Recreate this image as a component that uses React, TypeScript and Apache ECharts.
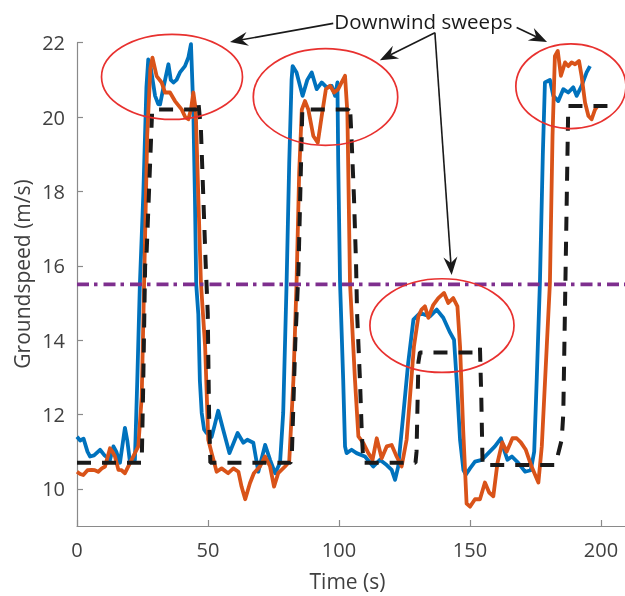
import React, { useEffect, useRef } from "react";
import * as echarts from "echarts";

const xTicks = [0, 50, 100, 150, 200];
const yTicks = [10, 12, 14, 16, 18, 20, 22];
const thresholdValue = 15.5;
const xRange = [0, 210];
const yRange = [9, 22];

const blueData: [number, number][] = [
  [0, 11.4], [1.2, 11.3], [2.5, 11.35], [4, 11.0], [5, 10.87], [6.5, 10.9], [8.8, 11.05], [10.5, 10.9],
  [12.6, 10.78], [13.9, 11.14], [15.0, 11.0], [16.4, 10.7], [18.3, 11.64], [19.2, 11.3], [20.2, 10.73],
  [22.1, 10.78], [23.0, 12.9], [24.0, 15.5], [25.3, 17.9], [26.5, 20.8], [27.2, 21.55], [28.2, 21.3],
  [29.8, 20.57], [31.0, 20.35], [31.7, 20.34], [33.0, 20.8], [34.9, 21.42], [35.8, 21.0], [36.8, 20.93],
  [38.0, 21.0], [39.3, 21.2], [41.2, 21.37], [42.5, 21.6], [43.5, 21.96], [44.4, 20.2], [45.0, 17.9],
  [45.5, 15.5], [46.3, 14.7], [46.9, 12.9], [47.6, 12.04], [48.5, 11.6], [49.5, 11.5], [51.4, 11.4],
  [52.5, 11.7], [53.9, 12.1], [55.8, 11.59], [58.2, 10.96], [61.3, 11.5], [63.5, 11.24], [65.0, 11.32],
  [67.3, 11.24], [69.2, 10.46], [71.8, 11.18], [73.7, 10.78], [75.6, 10.42], [77.5, 10.7], [78.7, 12.04],
  [80.0, 15.54], [81.0, 18.77], [81.9, 21.0], [82.3, 21.37], [83.8, 21.2], [86.1, 20.57], [87.9, 21.0],
  [89.6, 21.2], [91.5, 20.75], [93.4, 20.93], [95.3, 20.8], [97.2, 20.84], [98.5, 20.57], [99.4, 20.93],
  [99.7, 18.8], [100.4, 15.54], [101.6, 12.93], [102.3, 11.14], [102.9, 10.96], [104.8, 11.05],
  [106.7, 10.96], [109.9, 10.87], [113.1, 10.6], [115.6, 10.78], [118.2, 10.64], [120.1, 10.51],
  [121.4, 10.24], [122.6, 10.6], [124.6, 12.04], [126.4, 13.38], [128.4, 14.55], [130.9, 14.73],
  [133.0, 14.68], [134.7, 14.64], [137.3, 14.82], [139.8, 14.6], [142.4, 14.2], [143.9, 14.01],
  [144.9, 12.93], [146.2, 11.32], [147.5, 10.5], [148.4, 10.38], [150.0, 10.55], [151.9, 10.73],
  [154.5, 10.78], [157.0, 10.96], [159.5, 11.14], [161.8, 11.36], [163.0, 11.05], [164.3, 10.78],
  [166.0, 10.87], [168.4, 10.7], [171.0, 10.46], [173.2, 10.5], [174.5, 11.0], [175.5, 13.0],
  [176.7, 15.58], [177.8, 19.0], [178.6, 20.93], [180.5, 21.0], [181.8, 20.57], [183.7, 20.43],
  [185.6, 20.75], [187.5, 20.66], [189.4, 20.8], [190.7, 20.57], [192.6, 20.84], [194.5, 21.2],
  [195.8, 21.37],
];

const orangeData: [number, number][] = [
  [0, 10.46], [1.2, 10.4], [2.4, 10.37], [4, 10.5], [5.6, 10.51], [6.8, 10.5], [8.1, 10.46], [9.5, 10.55],
  [10.7, 10.6], [12.6, 11.09], [13.5, 11.0], [14.5, 10.87], [15.8, 10.51], [17, 10.5], [18.3, 10.42],
  [20.2, 10.69], [22.1, 10.96], [23.4, 11.14], [24.7, 12.48], [25.6, 15.5], [26.8, 19.5], [28.0, 21.3],
  [28.8, 21.6], [30.4, 21.1], [32.3, 20.93], [33.6, 20.66], [35.5, 20.66], [37.4, 20.43], [40, 20.2],
  [41.3, 20.0], [42.5, 19.94], [43.5, 20.2], [44.4, 20.66], [45.3, 20.2], [46.3, 17.87], [47.3, 15.54],
  [48.9, 13.83], [50.1, 11.32], [51.4, 10.96], [53.3, 10.46], [55.2, 10.55], [57.7, 10.42], [59.7, 10.55],
  [61.6, 10.46], [62.8, 10.06], [64.2, 9.72], [66, 10.15], [67.5, 10.42], [69.8, 10.6], [71.8, 10.87],
  [73.7, 10.6], [75.2, 10.06], [76.8, 10.42], [79.4, 10.6], [81, 10.73], [82.6, 12.93], [83.8, 15.54],
  [84.8, 18.5], [85.8, 20.2], [87, 20.43], [88.3, 20.2], [90.2, 19.49], [91.9, 19.31], [93.4, 20.03],
  [95, 20.75], [96.6, 20.84], [98.1, 20.66], [99.7, 20.75], [101, 20.93], [102.3, 21.11], [103.2, 20.12],
  [104.2, 15.54], [106.1, 12.93], [107.4, 11.41], [109.3, 11.23], [111.2, 10.96], [112.8, 10.78],
  [114.4, 11.36], [116.3, 10.82], [118.2, 11.14], [120.1, 11.18], [122, 10.87], [123.9, 10.6],
  [125.8, 11.32], [127.1, 12.48], [128.6, 13.83], [130.3, 14.64], [131.5, 14.82], [132.8, 14.91],
  [134.1, 14.6], [136, 14.95], [137.9, 15.13], [140.1, 15.27], [141.7, 15.0], [143.6, 15.13],
  [145.2, 14.91], [146.2, 13.83], [147.4, 11.59], [148.7, 9.6], [150, 9.52], [151.9, 9.72],
  [153.8, 9.72], [155.7, 10.17], [157.3, 9.9], [158.9, 9.8], [160.5, 10.7], [162.3, 11.25], [164, 11.0],
  [166.2, 11.36], [167.8, 11.36], [169.4, 11.25], [171.3, 11.05], [173.5, 10.6], [176.1, 10.17],
  [177.4, 11.14], [179.3, 13.83], [180.5, 15.54], [181.5, 19.5], [182.4, 21.64], [183.5, 21.78],
  [184.7, 21.11], [186.3, 21.47], [187.5, 21.37], [188.8, 21.47], [190.1, 21.42], [191.6, 21.51],
  [192.6, 21.1], [193.9, 20.39], [195.2, 20.03], [196.4, 19.94], [197.7, 20.2], [198.7, 20.3],
];

const commandData: [number, number][] = [
  [0, 10.7], [24.7, 10.7], [25.2, 12.5], [26.0, 16.0], [26.6, 16.4], [28.7, 20.2], [45.5, 20.2],
  [46.3, 20.43], [47.3, 19.67], [48.2, 17.87], [49.1, 16.08], [49.9, 14.73], [50.4, 12.04], [50.9, 10.7],
  [81.5, 10.7], [82.0, 10.9], [83.3, 13.9], [84.5, 15.8], [86.0, 20.2], [103.5, 20.2], [104.2, 20.3],
  [104.8, 19.4], [105.7, 17.87], [106.5, 16.08], [106.9, 14.73], [108, 12.93], [108.7, 11.5],
  [109.3, 10.7], [129.2, 10.7], [129.6, 11.0], [130.3, 13.4], [130.9, 13.67], [153.5, 13.67],
  [153.8, 13.79], [154.3, 12.5], [154.8, 10.64], [182.4, 10.64], [183.5, 10.9], [185, 11.32],
  [185.6, 12.0], [187.5, 20.3], [205, 20.3],
];

const thresholdData: [number, number][] = [
  [xRange[0], thresholdValue],
  [xRange[1], thresholdValue],
];

// annotation ellipses in data coordinates: centre time, centre speed, radius (s), radius (m/s)
const ellipses = [
  [36.26, 21.08, 26.9, 1.145],
  [94.85, 20.54, 27.56, 1.3],
  [139.3, 14.39, 27.5, 1.26],
  [188.5, 20.83, 21.0, 1.14],
];

// arrows in data coordinates: [fromT, fromV, toT, toV]
const arrows = [
  [97.8, 22.52, 58.4, 22.02],
  [136.6, 22.27, 115.6, 21.53],
  [136.6, 22.27, 143.0, 15.75],
  [167.8, 22.41, 179.4, 22.02],
];
const annotationLabel = "Downwind sweeps";
const annotationPos = [132.2, 22.59];

const FONT = '"Open Sans", "Noto Sans", sans-serif';
const AXIS_COLOR = "#8a8a8a";
const TEXT_COLOR = "#404040";

export default function App() {
  const ref = useRef<HTMLDivElement>(null);

  useEffect(() => {
    if (!ref.current) return;
    const chart = echarts.init(ref.current, undefined, { renderer: "svg" });

    const axisCommon = {
      type: "value" as const,
      axisLine: { show: true, onZero: false, lineStyle: { color: AXIS_COLOR, width: 1.2 } },
      splitLine: { show: false },
    };

    chart.setOption({
      animation: false,
      grid: { left: 77, right: -2.2, top: 42.7, bottom: 70, containLabel: false, outerBoundsMode: "none" },
      xAxis: {
        ...axisCommon,
        min: xRange[0],
        max: xRange[1],
        axisTick: { show: true, inside: true, length: 6, customValues: xTicks, lineStyle: { color: AXIS_COLOR, width: 1.2 } },
        axisLabel: { customValues: xTicks, fontSize: 20, color: TEXT_COLOR, fontFamily: FONT, margin: 13 },
      },
      yAxis: {
        ...axisCommon,
        min: yRange[0],
        max: yRange[1],
        axisTick: { show: true, inside: true, length: 6, customValues: yTicks, lineStyle: { color: AXIS_COLOR, width: 1.2 } },
        axisLabel: { customValues: yTicks, fontSize: 20, color: TEXT_COLOR, fontFamily: FONT, margin: 12 },
      },
      series: [
        {
          name: "Blue",
          type: "line",
          data: blueData,
          showSymbol: false,
          symbol: "none",
          lineStyle: { color: "#0072BD", width: 3.8, join: "round" },
          z: 2,
        },
        {
          name: "Orange",
          type: "line",
          data: orangeData,
          showSymbol: false,
          symbol: "none",
          lineStyle: { color: "#D95319", width: 3.8, join: "round" },
          z: 3,
        },
        {
          name: "Command",
          type: "line",
          data: commandData,
          showSymbol: false,
          symbol: "none",
          lineStyle: { color: "#1a1a1a", width: 4, type: [14, 11] },
          z: 4,
        },
        {
          name: "Threshold",
          type: "line",
          data: thresholdData,
          showSymbol: false,
          symbol: "none",
          lineStyle: { color: "#7E2F8E", width: 3.8, type: [12, 5, 3.5, 6] },
          z: 5,
        },
      ],
    });

    const toPx = (t: number, v: number) => chart.convertToPixel({ gridIndex: 0 }, [t, v]) as number[];

    const graphics: any[] = [];
    ellipses.forEach(([t, v, rt, rv]) => {
      const c = toPx(t, v);
      const e = toPx(t + rt, v + rv);
      graphics.push({
        type: "ellipse",
        silent: true,
        z: 10,
        shape: { cx: c[0], cy: c[1], rx: Math.abs(e[0] - c[0]), ry: Math.abs(e[1] - c[1]) },
        style: { fill: "none", stroke: "#E8312F", lineWidth: 1.7 },
      });
    });

    const L = 18;
    const W = 7;
    const N = 12;
    arrows.forEach(([t0, v0, t1, v1]) => {
      const a = toPx(t0, v0);
      const b = toPx(t1, v1);
      const dx = b[0] - a[0];
      const dy = b[1] - a[1];
      const len = Math.hypot(dx, dy);
      const ux = dx / len;
      const uy = dy / len;
      const nx = -uy;
      const ny = ux;
      graphics.push({
        type: "line",
        silent: true,
        z: 11,
        shape: { x1: a[0], y1: a[1], x2: b[0] - ux * N, y2: b[1] - uy * N },
        style: { stroke: "#1a1a1a", lineWidth: 1.6 },
      });
      graphics.push({
        type: "polygon",
        silent: true,
        z: 11,
        shape: {
          points: [
            [b[0], b[1]],
            [b[0] - ux * L + nx * W, b[1] - uy * L + ny * W],
            [b[0] - ux * N, b[1] - uy * N],
            [b[0] - ux * L - nx * W, b[1] - uy * L - ny * W],
          ],
        },
        style: { fill: "#1a1a1a" },
      });
    });

    const tp = toPx(annotationPos[0], annotationPos[1]);
    graphics.push({
      type: "text",
      silent: true,
      z: 12,
      x: tp[0],
      y: tp[1],
      style: {
        text: annotationLabel,
        font: `20.5px ${FONT}`,
        fill: "#1a1a1a",
        align: "center",
        verticalAlign: "middle",
      },
    });

    graphics.push({
      type: "text",
      silent: true,
      x: 347.5,
      y: 581,
      style: { text: "Time (s)", font: `21px ${FONT}`, fill: TEXT_COLOR, align: "center", verticalAlign: "middle" },
    });
    graphics.push({
      type: "text",
      silent: true,
      x: 21.5,
      y: 274,
      rotation: Math.PI / 2,
      style: { text: "Groundspeed (m/s)", font: `21px ${FONT}`, fill: TEXT_COLOR, align: "center", verticalAlign: "middle" },
    });

    chart.setOption({ graphic: graphics });

    return () => chart.dispose();
  }, []);

  return <div ref={ref} style={{ position: "fixed", left: 0, top: 0, width: 625, height: 596 }} />;
}
